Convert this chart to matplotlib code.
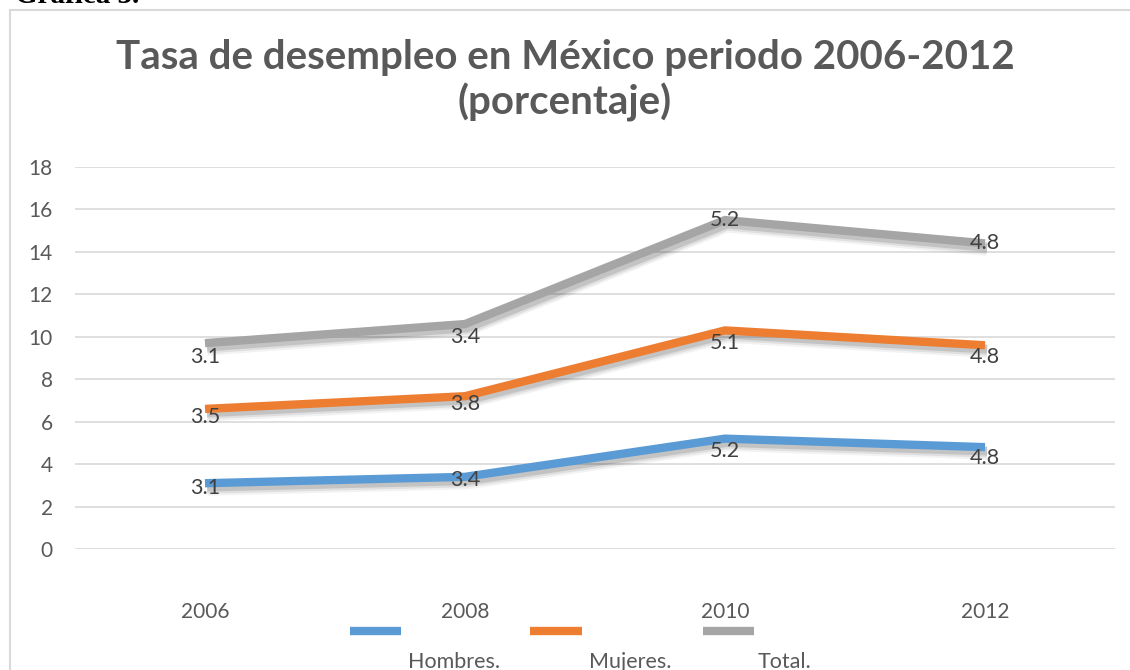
import numpy as np
import matplotlib
matplotlib.use("Agg")
import matplotlib.pyplot as plt
import matplotlib.patheffects as pe
from matplotlib.lines import Line2D
from matplotlib.patches import Rectangle

years = ["2006", "2008", "2010", "2012"]
series_names = ["Hombres.", "Mujeres.", "Total."]
hombres = [3.1, 3.4, 5.2, 4.8]
mujeres = [3.5, 3.8, 5.1, 4.8]
total = [3.1, 3.4, 5.2, 4.8]
colors = ["#5B9BD5", "#ED7D31", "#A5A5A5"]
title = "Tasa de desempleo en México periodo 2006-2012\n(porcentaje)"
yticks = [0, 2, 4, 6, 8, 10, 12, 14, 16, 18]
# label vertical offsets (pixels, downward) per series/point
label_offsets = [[5, 3, 12, 11], [8, 8, 13, 12], [14, 13, 0, 0]]

plt.rcParams['font.family'] = ['Lato', 'DejaVu Sans']

W, H = 1130, 670
fig = plt.figure(figsize=(W / 100, H / 100), dpi=100)

def fx(px):
    return px / W

def fy(py):
    return 1 - py / H

# chart border
fig.add_artist(Rectangle((fx(10), fy(700)), fx(1130), fy(10) - fy(700),
                         transform=fig.transFigure, fill=False,
                         edgecolor="#D9D9D9", lw=1.5))
fig.text(fx(15), fy(3), "Gráfica 3.", family="Liberation Serif",
         fontweight="bold", fontsize=21, va="baseline", ha="left", color="black")

ax = fig.add_axes([fx(75), fy(549), fx(1115) - fx(75), fy(167) - fy(549)])
x = np.arange(len(years))
data = np.array([hombres, mujeres, total])
cum = np.cumsum(data, axis=0)

shadow = [pe.SimpleLineShadow(offset=(1.5, -4), shadow_color="black", alpha=0.05, linewidth=10),
          pe.SimpleLineShadow(offset=(1.5, -3.5), shadow_color="black", alpha=0.08, linewidth=8),
          pe.SimpleLineShadow(offset=(1.5, -3), shadow_color="black", alpha=0.12, linewidth=6),
          pe.Normal()]

for i in range(len(series_names)):
    ax.plot(x, cum[i], color=colors[i], lw=6, solid_capstyle="butt",
            solid_joinstyle="miter", zorder=3, path_effects=shadow)
    for j in range(len(years)):
        ax.annotate(f"{data[i, j]:.1f}", (x[j], cum[i, j]),
                    xytext=(0, -label_offsets[i][j] * 0.72), textcoords="offset points",
                    ha="center", va="center", fontsize=15.5, color="#404040", zorder=5)

ax.set_xlim(-0.5, len(years) - 0.5)
ax.set_ylim(0, 18)
ax.set_yticks(yticks)
ax.set_xticks(x)
ax.set_xticklabels(years)
ax.grid(axis="y", color="#D9D9D9", lw=1.2)
ax.set_axisbelow(True)
for s in ax.spines.values():
    s.set_visible(False)
ax.tick_params(axis="both", length=0, labelsize=15, labelcolor="#595959")
ax.tick_params(axis="y", pad=16)
ax.tick_params(axis="x", pad=38)

fig.text(0.5, fy(57), title.split("\n")[0], ha="center", va="center",
         fontsize=29, fontweight="bold", color="#595959")
fig.text(0.5, fy(102), title.split("\n")[1], ha="center", va="center",
         fontsize=29, fontweight="bold", color="#595959")

# legend
leg_x = [(350, 401), (530, 582), (703, 754)]
txt_x = [454, 630, 785]
for i, name in enumerate(series_names):
    fig.add_artist(Line2D([fx(leg_x[i][0]), fx(leg_x[i][1])], [fy(631), fy(631)],
                          transform=fig.transFigure, color=colors[i], lw=6,
                          solid_capstyle="butt"))
    fig.text(fx(txt_x[i]), fy(652), name, ha="center", va="top",
             fontsize=15.5, color="#595959")

fig.savefig("out.png", dpi=100)
